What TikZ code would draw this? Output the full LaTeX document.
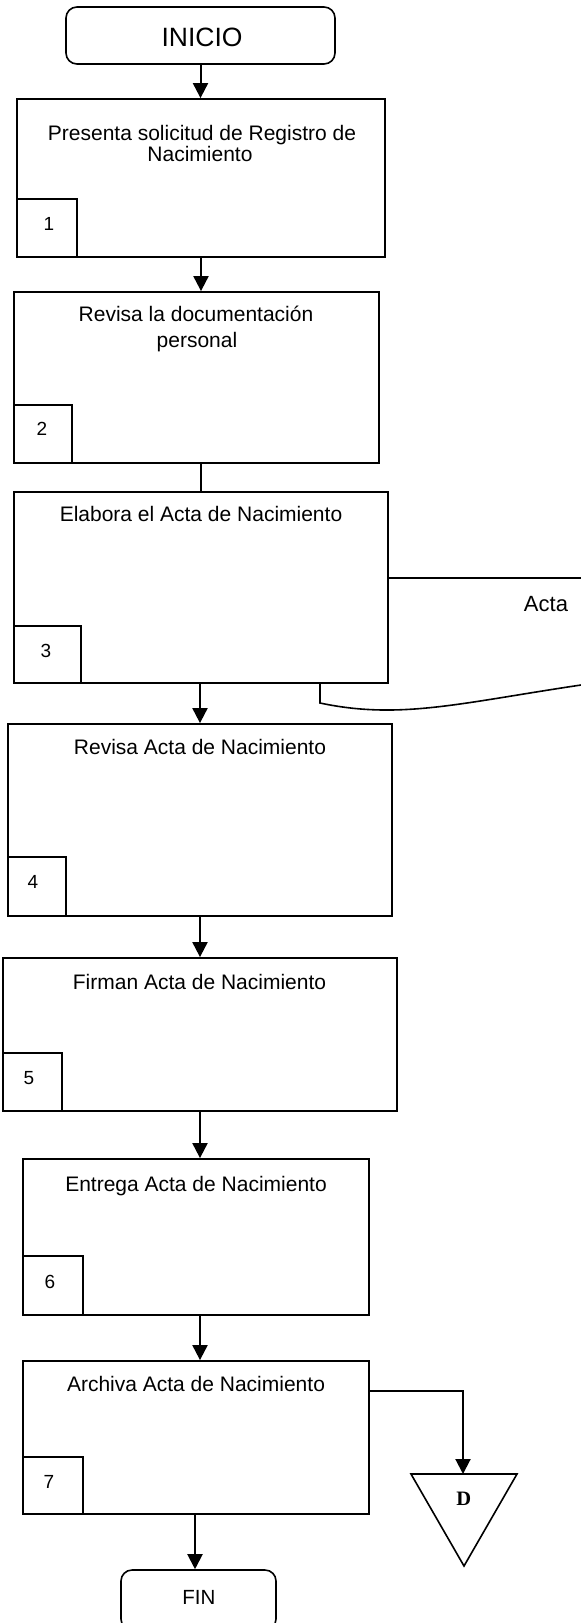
\documentclass[tikz,border=0pt]{standalone}
\usepackage{fontspec}
\setmainfont{Liberation Sans}
\newfontfamily\serifD{Liberation Serif}
\usetikzlibrary{arrows.meta}
\begin{document}
\begin{tikzpicture}[x=1pt,y=-1pt,
  box/.style={draw, line width=1.8pt, fill=white, inner sep=0pt},
  numbox/.style={draw, line width=1.5pt, fill=white, inner sep=0pt, anchor=south west},
  term/.style={draw, line width=1.6pt, rounded corners=11pt, fill=white, inner sep=0pt},
  txt/.style={inner sep=0pt, anchor=base, font=\fontsize{21}{24}\selectfont},
  num/.style={inner sep=0pt, anchor=base, font=\fontsize{19}{22}\selectfont},
  arr/.style={line width=2pt, -{Triangle[width=15pt,length=15pt]}},
  conn/.style={line width=2pt}]
\useasboundingbox (0,0) rectangle (581,1623);
\clip (0,0) rectangle (581,1623);

% INICIO
\node[term, minimum width=269pt, minimum height=57pt] (ini) at (200.5,35.5) {};
\node[txt, font=\fontsize{26.5}{30}\selectfont] (tini) at (202,46.7) {INICIO};

% Box 1
\node[box, minimum width=368pt, minimum height=158pt] (b1) at (201,178) {};
\node[txt] (t1a) at (202,140) {Presenta solicitud de Registro de};
\node[txt] (t1b) at (200,161.7) {Nacimiento};
\node[numbox, minimum width=60pt, minimum height=58pt] (n1) at (b1.south west) {};
\node[num] (l1) at (49,230) {1};

% Box 2
\node[box, minimum width=365pt, minimum height=171pt] (b2) at (196.5,377.5) {};
\node[txt] (t2a) at (196,321.7) {Revisa la documentación};
\node[txt] (t2b) at (197,347.7) {personal};
\node[numbox, minimum width=58pt, minimum height=58pt] (n2) at (b2.south west) {};
\node[num] (l2) at (42,435.7) {2};

% Document "Acta" (behind box 3)
\draw[line width=1.6pt, fill=white] (320,578) -- (700,578) -- (700,685) -- (581,685)
  .. controls (460,703) and (400,720) .. (320,703) -- cycle;
\node[txt, font=\fontsize{22}{26}\selectfont] (acta) at (546,611.7) {Acta};

% Box 3
\node[box, minimum width=374pt, minimum height=191pt] (b3) at (201,587.5) {};
\node[txt] (t3) at (201,521.7) {Elabora el Acta de Nacimiento};
\node[numbox, minimum width=67pt, minimum height=57pt] (n3) at (b3.south west) {};
\node[num] (l3) at (46,657) {3};

% Box 4
\node[box, minimum width=384pt, minimum height=192pt] (b4) at (200,820) {};
\node[txt] (t4) at (200,754) {Revisa Acta de Nacimiento};
\node[numbox, minimum width=58pt, minimum height=59pt] (n4) at (b4.south west) {};
\node[num] (l4) at (33,888) {4};

% Box 5
\node[box, minimum width=394pt, minimum height=153pt] (b5) at (200,1034.5) {};
\node[txt] (t5) at (199.5,989) {Firman Acta de Nacimiento};
\node[numbox, minimum width=59pt, minimum height=58pt] (n5) at (b5.south west) {};
\node[num] (l5) at (29,1084) {5};

% Box 6
\node[box, minimum width=346pt, minimum height=156pt] (b6) at (196,1237) {};
\node[txt] (t6) at (196,1191.7) {Entrega Acta de Nacimiento};
\node[numbox, minimum width=60pt, minimum height=59pt] (n6) at (b6.south west) {};
\node[num] (l6) at (50,1288) {6};

% Box 7
\node[box, minimum width=346pt, minimum height=153pt] (b7) at (196,1437.5) {};
\node[txt] (t7) at (196,1391.7) {Archiva Acta de Nacimiento};
\node[numbox, minimum width=60pt, minimum height=57pt] (n7) at (b7.south west) {};
\node[num] (l7) at (49,1488) {7};

% FIN
\node[term, minimum width=155pt, minimum height=60pt] (fin) at (198.5,1600) {};
\node[txt, font=\fontsize{20.5}{24}\selectfont] (tfin) at (198.8,1604) {FIN};

% Archive triangle D
\draw[line width=1.6pt, fill=white] (411,1474) -- (517,1474) -- (464,1566) -- cycle;
\coordinate (dtop) at (463,1474);
\node[inner sep=0pt, anchor=base, font=\serifD\bfseries\fontsize{20.5}{24}\selectfont] (dl) at (463.7,1505) {D};

% Connectors
\coordinate (fx) at (195,0);
\draw[arr] (ini.south) -- (ini.south |- b1.north);
\draw[arr] (b1.south) -- (b1.south |- b2.north);
\draw[conn] (b2.south -| b1.south) -- (b3.north -| b1.south);
\draw[arr] (b3.south -| b4.north) -- (b4.north);
\draw[arr] (b4.south) -- (b5.north);
\draw[arr] (b5.south) -- (b5.south |- b6.north);
\draw[arr] (b6.south -| b5.south) -- (b5.south |- b7.north);
\draw[arr] (b7.south -| fx) -- (fin.north -| fx);
\draw[arr] ([yshift=-31pt]b7.north east) -| (dtop);
\end{tikzpicture}
\end{document}
